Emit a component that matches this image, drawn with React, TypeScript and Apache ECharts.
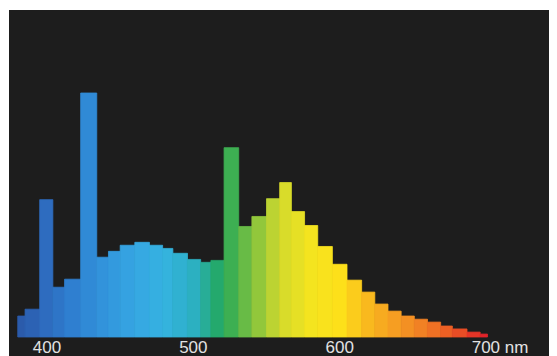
import React, { useEffect, useRef } from "react";
import * as echarts from "echarts";

// Bin edges in nm and relative intensity of each bin
const binEdges = [380, 385, 395, 404, 412, 423, 434, 442, 450, 460, 470, 479, 486, 496, 505, 512, 521, 531, 540, 550, 559, 567, 576, 585, 595, 605, 615, 624, 633, 642, 651, 660, 669, 677, 687, 696, 701];
const intensity = [8.6, 11.4, 56.3, 20.4, 23.7, 100, 32.7, 35.1, 37.6, 38.8, 37.6, 36.3, 34.3, 31.8, 30.6, 31.4, 77.6, 45.3, 49.4, 56.7, 63.3, 51.4, 45.7, 37.1, 29.8, 23.3, 18.4, 13.5, 10.6, 8.6, 7.3, 6.1, 4.5, 3.3, 2.0, 1.2];
const tickValues = [400, 500, 600, 700];
const unitLabel = "nm";

// spectrum colours from 380 to 700 nm, equally spaced (20 nm)
const spectrumColors = [
  "#2a58a8", "#2e6cc0", "#2f82d2", "#3295dc", "#36a6e2", "#35b3e0", "#2cb0c4", "#22a85a",
  "#7cc040", "#d4da2c", "#f4e41f", "#fde01a", "#f9b81e", "#f59a22", "#f07a24", "#ea5224", "#e0202a",
];

export default function App() {
  const ref = useRef<HTMLDivElement>(null);
  useEffect(() => {
    if (!ref.current) return;
    const chart = echarts.init(ref.current, undefined, { renderer: "svg" });
    const data = intensity.map((v, i) => [binEdges[i], binEdges[i + 1], v, (binEdges[i] + binEdges[i + 1]) / 2]);
    chart.setOption({
      animation: false,
      backgroundColor: "#1d1d1d",
      grid: { left: 0, right: 0, top: 83, bottom: 18 },
      xAxis: {
        type: "value",
        min: 374.03,
        max: 748.5,
        axisLine: { show: false },
        axisTick: { show: false },
        splitLine: { show: false },
        axisLabel: {
          customValues: tickValues,
          margin: 2,
          color: "#e2e2e2",
          fontSize: 17,
          fontFamily: "Liberation Sans, Arial, sans-serif",
          formatter: (v: number) => (v === 700 ? "{p|}" + v + " " + unitLabel : String(v)),
          rich: { p: { width: 28 } },
        },
      },
      yAxis: { type: "value", min: 0, max: 100, show: false },
      visualMap: {
        show: false,
        type: "continuous",
        dimension: 3,
        min: 380,
        max: 700,
        seriesIndex: 0,
        inRange: { color: spectrumColors },
      },
      series: [
        {
          type: "custom",
          encode: { x: [0, 1], y: 2 },
          data,
          renderItem: (params: any, api: any) => {
            const s = api.coord([api.value(0), 0]);
            const e = api.coord([api.value(1), api.value(2)]);
            const c = api.visual("color");
            return {
              type: "rect",
              shape: { x: s[0], y: e[1], width: e[0] - s[0], height: s[1] - e[1] },
              style: { fill: c, stroke: c, lineWidth: 0.8 },
            };
          },
        },
      ],
    });
    return () => chart.dispose();
  }, []);
  return (
    <div style={{ paddingTop: 2, paddingLeft: 1 }}>
      <div ref={ref} style={{ width: 548, height: 346 }} />
    </div>
  );
}
